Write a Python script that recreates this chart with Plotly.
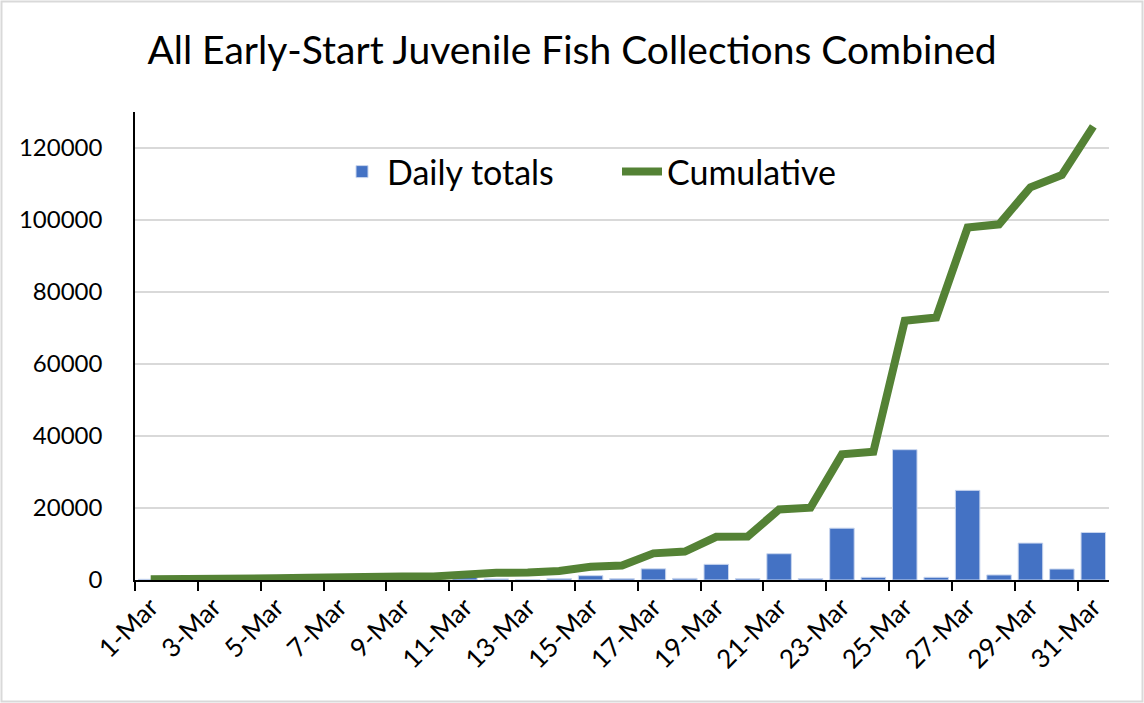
import plotly.graph_objects as go

# Data
days = list(range(1, 32))
day_labels = [f"{d}-Mar" for d in days]
daily_totals = [200, 200, 50, 50, 0, 100, 300, 50, 50, 0,
                700, 300, 100, 400, 1200, 400, 3100, 450, 4350, 400,
                7300, 400, 14400, 750, 36200, 750, 24900, 1400, 10250, 3050,
                13200]
cumulative = [200, 400, 450, 500, 500, 600, 900, 950, 1000, 1000,
              1700, 2000, 2100, 2500, 3700, 4000, 7400, 7900, 12000, 12100,
              19600, 20100, 34900, 35600, 72000, 72900, 97900, 98800, 109100, 112500,
              126000]
y_ticks = [0, 20000, 40000, 60000, 80000, 100000, 120000]

FONT = "Lato"

fig = go.Figure()
fig.add_trace(go.Bar(
    x=days, y=daily_totals, name="Daily totals",
    marker=dict(color="#4472C4", line=dict(color="#c9d6ee", width=1)),
))
fig.add_trace(go.Scatter(
    x=days, y=cumulative, name="Cumulative", mode="lines",
    line=dict(color="#548235", width=8),
))

# pixel helpers for the chart border (plot area 135..1109 x 112..580)
W, H = 1144, 703
L, R, T, B = 135, 35, 112, 123
pw, ph = W - L - R, H - T - B


def px(x):
    return (x - L) / pw


def py(y):
    return (H - B - y) / ph


fig.add_shape(type="rect", xref="paper", yref="paper",
              x0=px(1.5), x1=px(W - 1.5), y0=py(H - 1.5), y1=py(1.5),
              line=dict(color="#d9d9d9", width=2), layer="below")

fig.update_layout(
    width=W, height=H,
    margin=dict(l=L, r=R, t=T, b=B),
    paper_bgcolor="white", plot_bgcolor="white",
    font=dict(family=FONT, color="black"),
    title=dict(text="All Early-Start Juvenile Fish Collections Combined",
               x=0.5, xref="container", xanchor="center", y=0.928, yanchor="middle",
               font=dict(size=39, family=FONT, color="black")),
    bargap=0.22,
    showlegend=True,
    legend=dict(orientation="h", x=px(337), xanchor="left", y=py(172), yanchor="middle",
                font=dict(size=34, family=FONT), bgcolor="rgba(0,0,0,0)",
                itemwidth=40, entrywidth=225),
    xaxis=dict(
        range=[0.5, 31.5],
        tickmode="array", tickvals=days[::2], ticktext=day_labels[::2],
        ticks="", tickangle=-45, tickfont=dict(size=26, family=FONT),
        showline=True, linecolor="black", linewidth=1.5,
        showgrid=False, zeroline=False,
        minor=dict(tickmode="array", tickvals=[d - 0.5 for d in days[::2]],
                   ticks="outside", ticklen=9, tickwidth=1.5, tickcolor="black"),
    ),
    yaxis=dict(
        range=[0, 130000],
        tickmode="array", tickvals=y_ticks, ticktext=[str(v) for v in y_ticks],
        tickfont=dict(size=24, family=FONT),
        showline=True, linecolor="black", linewidth=1.5,
        showgrid=True, gridcolor="#d9d9d9", gridwidth=1.5,
        zeroline=False, ticks="", ticklabelstandoff=26,
    ),
)

fig.write_html("out.html", config={"displayModeBar": False},
               post_script="document.body.style.margin='0';")
